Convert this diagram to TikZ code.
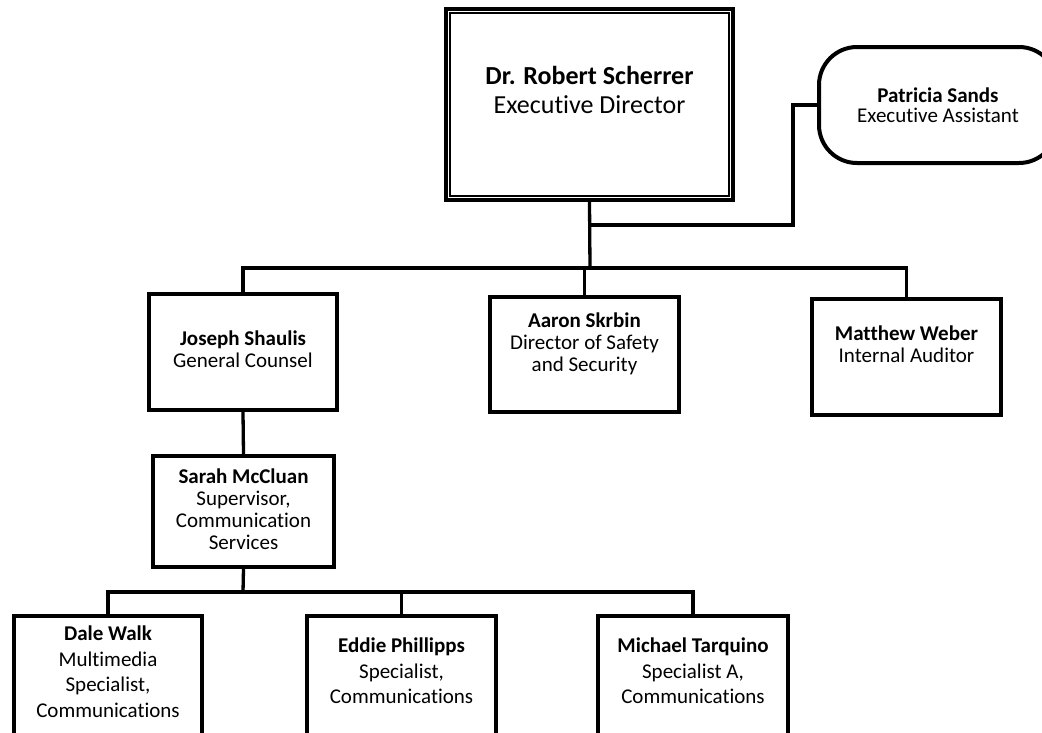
\documentclass[tikz,border=0pt]{standalone}
\usepackage{fontspec}
\setmainfont{Carlito}[Ligatures=NoCommon]
\usetikzlibrary{positioning}
\tikzset{
  box/.style={draw, line width=4pt, inner sep=0pt, minimum width=188pt, minimum height=116pt},
  who/.style={align=center, inner sep=0pt, font=\fontsize{21}{22}\selectfont},
  whoLow/.style={who, font=\fontsize{21}{25.5}\selectfont},
  link/.style={line width=3.3pt},
}

\begin{document}
\begin{tikzpicture}[x=1pt, y=-1pt]
        \useasboundingbox (0,0) rectangle (1042,732);
        %Boxes
        \node [box, minimum width=287pt, minimum height=191pt] (director) at (589.5,104.5) {};
        \draw [line width=2pt] ([shift={(6pt,-6pt)}]director.north west) rectangle ([shift={(-6pt,6pt)}]director.south east);
        \node [box, minimum width=238pt, rounded corners=38pt, align=center, font=\fontsize{21}{20.5}\selectfont] (assistant) at (938,105) {\textbf{Patricia Sands}\\Executive Assistant};
        \node [box] (joseph) at (243,352) {};
        \node [box, minimum width=189pt, minimum height=115pt] (aaron) at (584.5,354.5) {};
        \node [box, minimum width=189pt] (matthew) at (906.5,357) {};
        \node [box, minimum width=181pt, minimum height=111pt] (sarah) at (243.5,511.5) {};
        \node [box, minimum height=134pt] (dale) at (108,683) {};
        \node [box, minimum width=189pt, minimum height=134pt] (eddie) at (401.5,683) {};
        \node [box, minimum width=190pt, minimum height=134pt] (michael) at (693,683) {};
        %Textes
        \node [who, font=\fontsize{26}{29}\selectfont, below=59pt of director.north] (directorT) {\textbf{Dr. Robert Scherrer}\\Executive Director};
        \node [who, below=39pt of joseph.north] (josephT) {\textbf{Joseph Shaulis}\\General Counsel};
        \node [who, below=18pt of aaron.north] (aaronT) {\textbf{Aaron Skrbin}\\Director of Safety\\and Security};
        \node [who, below=29pt of matthew.north] (matthewT) {\textbf{Matthew Weber}\\Internal Auditor};
        \node [who, below=15pt of sarah.north] (sarahT) {\textbf{Sarah McCluan}\\Supervisor,\\Communication\\Services};
        \node [whoLow, below=12pt of dale.north] (daleT) {\textbf{Dale Walk}\\Multimedia\\Specialist,\\Communications};
        \node [whoLow, below=24pt of eddie.north] (eddieT) {\textbf{Eddie Phillipps}\\Specialist,\\Communications};
        \node [whoLow, below=24pt of michael.north] (michaelT) {\textbf{Michael Tarquino}\\Specialist A,\\Communications};
        %Lines
        \coordinate (tapA) at (590,225);
        \coordinate (elbowA) at (793,225);
        \coordinate (busA) at (590,268);
        \coordinate (busB) at (243,592);
        \draw [link] (director.south) -- (busA);
        \draw [link] (tapA) -- (elbowA) |- (assistant.west);
        \draw [link] (joseph.north) |- (busA);
        \draw [link] (matthew.north) |- (busA);
        \draw [link] (aaron.north) -- (aaron.north |- busA);
        \draw [link] (joseph.south) -- (sarah.north);
        \draw [link] (sarah.south) -- (busB);
        \draw [link] (dale.north) |- (busB);
        \draw [link] (michael.north) |- (busB);
        \draw [link] (eddie.north) -- (eddie.north |- busB);
\end{tikzpicture}
\end{document}
